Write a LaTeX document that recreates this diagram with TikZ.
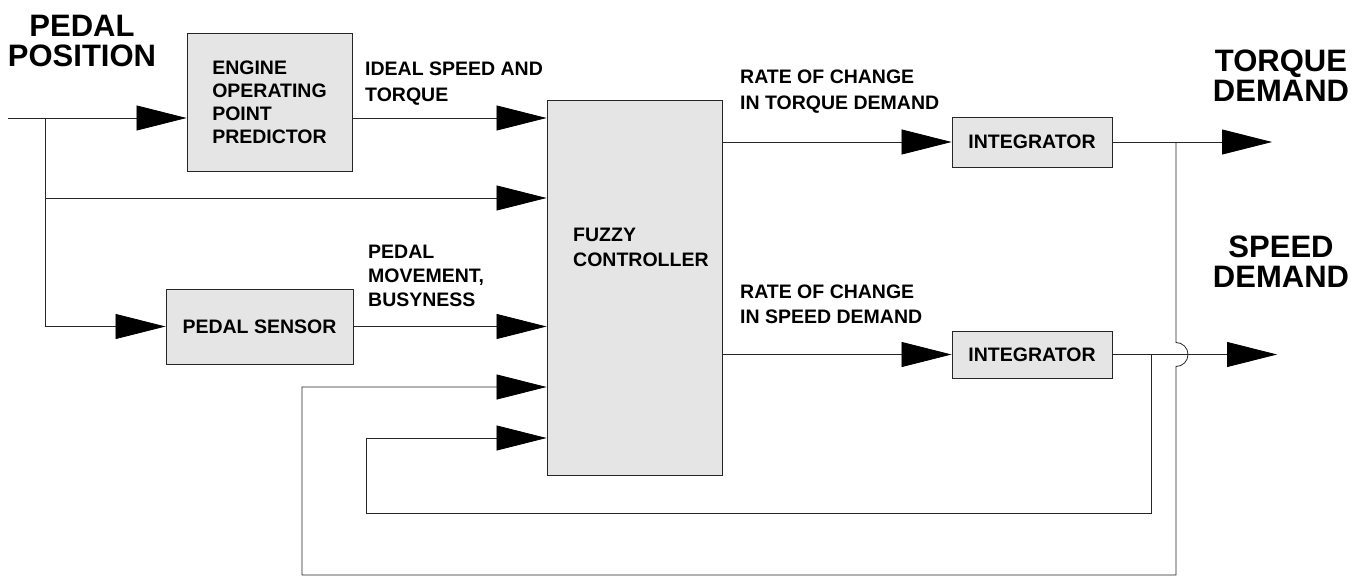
\documentclass[tikz,border=0pt]{standalone}
\usepackage{fontspec}
\setmainfont{Liberation Sans}
\usetikzlibrary{arrows.meta}
\begin{document}
\begin{tikzpicture}[x=1pt,y=-1pt]
\tikzstyle{every node}+=[inner sep=0pt, font=\fontsize{19.5}{24}\selectfont\bfseries]
\tikzstyle{block}=[draw=black!85, line width=0.9pt, fill=black!10]
\tikzstyle{wire}=[draw=black!85, line width=0.8pt]
\tikzstyle{feed}=[wire, -{Triangle[length=50pt,width=25pt,color=black,fill=black]}]
\tikzstyle{biglabel}=[align=center, font=\fontsize{31}{30}\selectfont\bfseries]
\useasboundingbox (0,0) rectangle (1356,580);
% blocks
\node [block, minimum width=165pt, minimum height=138pt, align=left, font=\fontsize{19.5}{23}\selectfont\bfseries] (eopp) at (269.5,102) {ENGINE\\OPERATING\\POINT\\PREDICTOR};
\node [block, minimum width=175pt, minimum height=375pt] (fuzzy) at (634.5,287.5) {};
\node [anchor=north west, align=left, font=\fontsize{19.5}{25}\selectfont\bfseries] (fuzzytxt) at (573,228) {FUZZY\\CONTROLLER};
\node [block, minimum width=187pt, minimum height=75pt] (sensor) at (259.5,326.5) {PEDAL SENSOR};
\node [block, minimum width=160pt, minimum height=50pt] (intT) at (1032,142) {INTEGRATOR};
\node [block, minimum width=160pt, minimum height=47pt] (intS) at (1032,354.5) {INTEGRATOR};
% labels
\node [biglabel] (pedalpos) at (82,40.5) {PEDAL\\POSITION};
\node [biglabel] (torquedem) at (1281,76) {TORQUE\\DEMAND};
\node [biglabel] (speeddem) at (1281,262) {SPEED\\DEMAND};
\node [anchor=north west, align=left, font=\fontsize{19.5}{26}\selectfont\bfseries] (ideal) at (365,62) {IDEAL SPEED AND\\TORQUE};
\node [anchor=north west, align=left, font=\fontsize{19.5}{26}\selectfont\bfseries] (rateT) at (740,70) {RATE OF CHANGE\\IN TORQUE DEMAND};
\node [anchor=north west, align=left, font=\fontsize{19.5}{25}\selectfont\bfseries] (rateS) at (740,285) {RATE OF CHANGE\\IN SPEED DEMAND};
\node [anchor=north west, align=left] (movement) at (368,245) {PEDAL\\MOVEMENT,\\BUSYNESS};
% points
\coordinate (in) at (8,118);
\coordinate (split) at (45,118);
\coordinate (split2) at (45,198);
\coordinate (outT) at (1272,142);
\coordinate (outS) at (1277,354.5);
\coordinate (tapT) at (1176,142);
\coordinate (hopT) at (1176,342.5);
\coordinate (bottomT) at (1176,575);
\coordinate (fbT) at (302,387);
\coordinate (tapS) at (1151,354.5);
\coordinate (bottomS) at (1151,513);
\coordinate (fbS) at (366,438);
% connectors
\draw [feed] (in) -- (in -| eopp.west);
\draw [feed] (split) |- (sensor.west);
\draw [feed] (split2) -- (split2 -| fuzzy.west);
\draw [feed] (in -| eopp.east) -- (in -| fuzzy.west);
\draw [feed] (sensor.east) -- (sensor.east -| fuzzy.west);
\draw [feed] (intT.west -| fuzzy.east) -- (intT.west);
\draw [feed] (intS.west -| fuzzy.east) -- (intS.west);
\draw [feed] (intT.east) -- (outT);
\draw [feed] (intS.east) -- (outS);
% feedback
\draw [feed] (tapT) -- (hopT) arc[start angle=90, end angle=-90, radius=12pt] -- (bottomT) -| (fbT) -- (fbT -| fuzzy.west);
\draw [feed] (tapS) -- (bottomS) -| (fbS) -- (fbS -| fuzzy.west);
\end{tikzpicture}
\end{document}
